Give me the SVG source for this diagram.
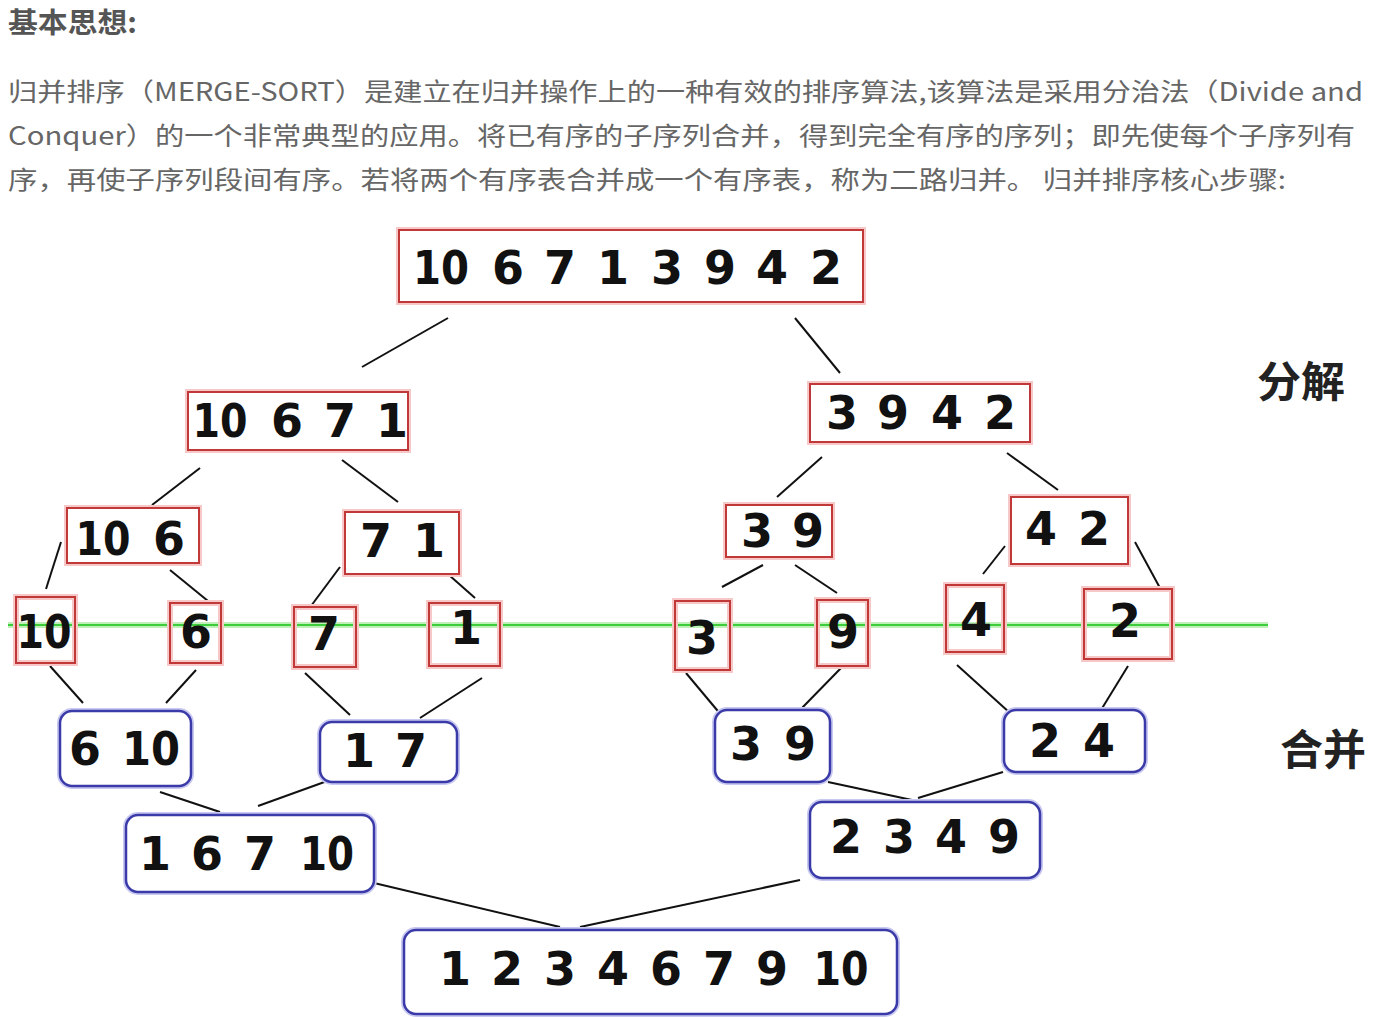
<svg xmlns="http://www.w3.org/2000/svg" width="1377" height="1017" viewBox="0 0 1377 1017">
<style>
.h{font-family:"Noto Sans CJK SC","Noto Sans",sans-serif;font-weight:bold;fill:#555;font-size:28px}
.p{font-family:"Noto Sans CJK SC","Noto Sans",sans-serif;fill:#666;font-size:25px}
.lab{font-family:"Noto Sans CJK SC",sans-serif;font-weight:bold;fill:#222;font-size:42px}
.n{font-family:"DejaVu Sans",sans-serif;font-weight:bold;fill:#111;font-size:46px;text-anchor:middle}
.rg{fill:none;stroke:#f6c8c8;stroke-width:6}
.r{fill:#fff;stroke:#c03838;stroke-width:2}
.bg{fill:none;stroke:#c8c8f0;stroke-width:6}
.b{fill:#fff;stroke:#3a3aa8;stroke-width:2.5}
.c line{stroke:#111;stroke-width:2}
</style>
<rect width="1377" height="1017" fill="#fff"/>
<g id="intro">
<text class="h" x="8" y="33" textLength="129" lengthAdjust="spacingAndGlyphs">基本思想:</text>
<text class="p" x="8" y="101" textLength="1355" lengthAdjust="spacingAndGlyphs">归并排序（MERGE-SORT）是建立在归并操作上的一种有效的排序算法,该算法是采用分治法（Divide and</text>
<text class="p" x="8" y="145" textLength="1347" lengthAdjust="spacingAndGlyphs">Conquer）的一个非常典型的应用。将已有序的子序列合并，得到完全有序的序列；即先使每个子序列有</text>
<text class="p" x="8" y="189" textLength="1278" lengthAdjust="spacingAndGlyphs">序，再使子序列段间有序。若将两个有序表合并成一个有序表，称为二路归并。 归并排序核心步骤:</text>
</g>
<g id="labels">
<text class="lab" x="1257" y="397" textLength="88" lengthAdjust="spacingAndGlyphs">分解</text>
<text class="lab" x="1280" y="765" textLength="86" lengthAdjust="spacingAndGlyphs">合并</text>
</g>
<g id="midline">
<line x1="8" y1="625" x2="1268" y2="625" stroke="#c0f0b8" stroke-width="6"/>
<line x1="8" y1="625" x2="1268" y2="625" stroke="#3ccc3c" stroke-width="2"/>
</g>
<g class="c" id="connectors">
<line x1="448" y1="318" x2="362" y2="367"/>
<line x1="795" y1="318" x2="840" y2="373"/>
<line x1="200" y1="468" x2="152" y2="505"/>
<line x1="342" y1="460" x2="398" y2="502"/>
<line x1="822" y1="457" x2="777" y2="497"/>
<line x1="1007" y1="453" x2="1058" y2="490"/>
<line x1="61" y1="542" x2="46" y2="589"/>
<line x1="170" y1="570" x2="208" y2="601"/>
<line x1="340" y1="567" x2="311" y2="606"/>
<line x1="449" y1="575" x2="475" y2="598"/>
<line x1="763" y1="565" x2="722" y2="587"/>
<line x1="795" y1="565" x2="837" y2="593"/>
<line x1="1005" y1="546" x2="983" y2="574"/>
<line x1="1135" y1="542" x2="1160" y2="588"/>
<line x1="50" y1="666" x2="83" y2="703"/>
<line x1="196" y1="670" x2="166" y2="703"/>
<line x1="305" y1="673" x2="350" y2="715"/>
<line x1="482" y1="678" x2="420" y2="718"/>
<line x1="686" y1="673" x2="722" y2="716"/>
<line x1="842" y1="667" x2="800" y2="710"/>
<line x1="957" y1="665" x2="1010" y2="713"/>
<line x1="1128" y1="666" x2="1101" y2="710"/>
<line x1="160" y1="792" x2="220" y2="812"/>
<line x1="330" y1="780" x2="258" y2="806"/>
<line x1="828" y1="782" x2="912" y2="800"/>
<line x1="1003" y1="772" x2="918" y2="798"/>
<line x1="374" y1="883" x2="560" y2="927"/>
<line x1="800" y1="880" x2="580" y2="927"/>
</g>
<g id="n-all">
<rect class="rg" x="399" y="230" width="464" height="72"/><rect class="r" x="399" y="230" width="464" height="72"/>
<text class="n" x="441" y="284" textLength="56" lengthAdjust="spacingAndGlyphs">10</text>
<text class="n" y="284"><tspan x="508">6</tspan><tspan x="560">7</tspan><tspan x="613">1</tspan><tspan x="667">3</tspan><tspan x="720">9</tspan><tspan x="772">4</tspan><tspan x="826">2</tspan></text>
</g>
<g id="n-10671">
<rect class="rg" x="188" y="392" width="220" height="58"/><rect class="r" x="188" y="392" width="220" height="58"/>
<text class="n" x="220" y="437" textLength="55" lengthAdjust="spacingAndGlyphs">10</text>
<text class="n" y="437"><tspan x="287">6</tspan><tspan x="340">7</tspan><tspan x="392">1</tspan></text>
</g>
<g id="n-3942">
<rect class="rg" x="810" y="384" width="220" height="58"/><rect class="r" x="810" y="384" width="220" height="58"/>
<text class="n" y="429"><tspan x="842">3</tspan><tspan x="893">9</tspan><tspan x="947">4</tspan><tspan x="1000">2</tspan></text>
</g>
<g id="n-106">
<rect class="rg" x="67" y="508" width="132" height="55"/><rect class="r" x="67" y="508" width="132" height="55"/>
<text class="n" x="103" y="555" textLength="55" lengthAdjust="spacingAndGlyphs">10</text>
<text class="n" x="169" y="555">6</text>
</g>
<g id="n-71">
<rect class="rg" x="345" y="512" width="114" height="62"/><rect class="r" x="345" y="512" width="114" height="62"/>
<text class="n" y="557"><tspan x="376">7</tspan><tspan x="429">1</tspan></text>
</g>
<g id="n-39a">
<rect class="rg" x="726" y="505" width="106" height="52"/><rect class="r" x="726" y="505" width="106" height="52"/>
<text class="n" y="547"><tspan x="757">3</tspan><tspan x="808">9</tspan></text>
</g>
<g id="n-42">
<rect class="rg" x="1011" y="497" width="117" height="67"/><rect class="r" x="1011" y="497" width="117" height="67"/>
<text class="n" y="545"><tspan x="1041">4</tspan><tspan x="1094">2</tspan></text>
</g>
<g id="n-10">
<rect class="rg" x="16" y="597" width="59" height="66"/><rect class="r" x="16" y="597" width="59" height="66" fill-opacity="0"/>
<text class="n" x="44" y="648" textLength="55" lengthAdjust="spacingAndGlyphs">10</text>
</g>
<g id="n-6">
<rect class="rg" x="170" y="603" width="51" height="60"/><rect class="r" x="170" y="603" width="51" height="60" fill-opacity="0"/>
<text class="n" x="196" y="648">6</text>
</g>
<g id="n-7">
<rect class="rg" x="294" y="607" width="62" height="60"/><rect class="r" x="294" y="607" width="62" height="60" fill-opacity="0"/>
<text class="n" x="324" y="650">7</text>
</g>
<g id="n-1">
<rect class="rg" x="429" y="603" width="71" height="63"/><rect class="r" x="429" y="603" width="71" height="63" fill-opacity="0"/>
<text class="n" x="466" y="644">1</text>
</g>
<g id="n-3">
<rect class="rg" x="675" y="601" width="55" height="69"/><rect class="r" x="675" y="601" width="55" height="69" fill-opacity="0"/>
<text class="n" x="702" y="654">3</text>
</g>
<g id="n-9">
<rect class="rg" x="817" y="600" width="51" height="66"/><rect class="r" x="817" y="600" width="51" height="66" fill-opacity="0"/>
<text class="n" x="843" y="648">9</text>
</g>
<g id="n-4">
<rect class="rg" x="946" y="585" width="58" height="67"/><rect class="r" x="946" y="585" width="58" height="67" fill-opacity="0"/>
<text class="n" x="976" y="636">4</text>
</g>
<g id="n-2">
<rect class="rg" x="1084" y="589" width="88" height="70"/><rect class="r" x="1084" y="589" width="88" height="70" fill-opacity="0"/>
<text class="n" x="1125" y="637">2</text>
</g>
<g id="m-610">
<rect class="bg" x="60" y="711" width="131" height="75" rx="12"/><rect class="b" x="60" y="711" width="131" height="75" rx="12"/>
<text class="n" x="85" y="765">6</text>
<text class="n" x="151" y="765" textLength="58" lengthAdjust="spacingAndGlyphs">10</text>
</g>
<g id="m-17">
<rect class="bg" x="320" y="722" width="137" height="60" rx="12"/><rect class="b" x="320" y="722" width="137" height="60" rx="12"/>
<text class="n" y="767"><tspan x="359">1</tspan><tspan x="411">7</tspan></text>
</g>
<g id="m-39">
<rect class="bg" x="715" y="710" width="115" height="72" rx="12"/><rect class="b" x="715" y="710" width="115" height="72" rx="12"/>
<text class="n" y="760"><tspan x="746">3</tspan><tspan x="800">9</tspan></text>
</g>
<g id="m-24">
<rect class="bg" x="1004" y="710" width="141" height="62" rx="12"/><rect class="b" x="1004" y="710" width="141" height="62" rx="12"/>
<text class="n" y="757"><tspan x="1045">2</tspan><tspan x="1099">4</tspan></text>
</g>
<g id="m-16710">
<rect class="bg" x="126" y="815" width="248" height="77" rx="12"/><rect class="b" x="126" y="815" width="248" height="77" rx="12"/>
<text class="n" y="870"><tspan x="155">1</tspan><tspan x="207">6</tspan><tspan x="260">7</tspan></text>
<text class="n" x="327" y="870" textLength="54" lengthAdjust="spacingAndGlyphs">10</text>
</g>
<g id="m-2349">
<rect class="bg" x="810" y="802" width="230" height="76" rx="12"/><rect class="b" x="810" y="802" width="230" height="76" rx="12"/>
<text class="n" y="853"><tspan x="846">2</tspan><tspan x="899">3</tspan><tspan x="951">4</tspan><tspan x="1004">9</tspan></text>
</g>
<g id="m-all">
<rect class="bg" x="404" y="930" width="493" height="84" rx="12"/><rect class="b" x="404" y="930" width="493" height="84" rx="12"/>
<text class="n" y="985"><tspan x="455">1</tspan><tspan x="507">2</tspan><tspan x="560">3</tspan><tspan x="613">4</tspan><tspan x="666">6</tspan><tspan x="719">7</tspan><tspan x="772">9</tspan></text>
<text class="n" x="841" y="985" textLength="55" lengthAdjust="spacingAndGlyphs">10</text>
</g>
</svg>
